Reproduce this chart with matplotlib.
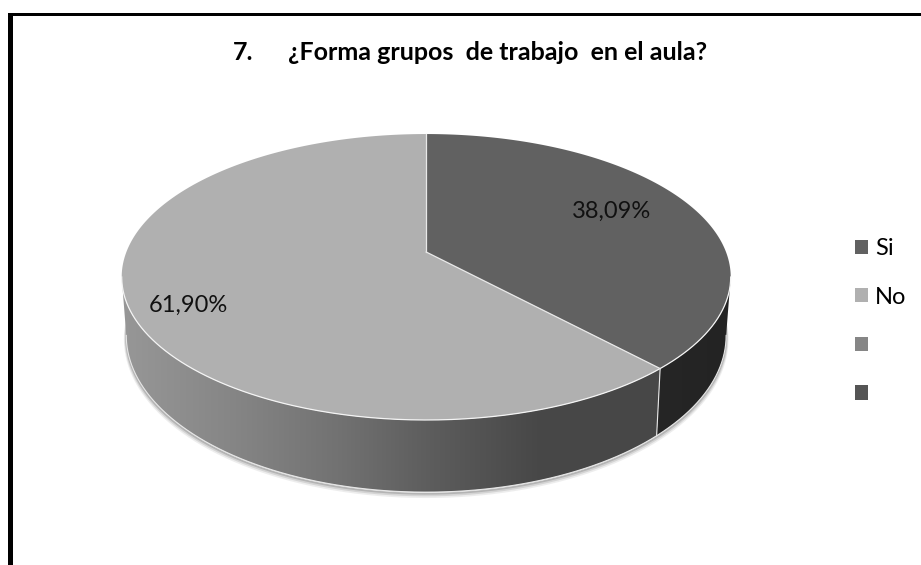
import matplotlib
matplotlib.use("Agg")
import matplotlib.pyplot as plt
import numpy as np
from matplotlib.colors import LinearSegmentedColormap
from matplotlib.patches import Patch, Polygon, Rectangle

plt.rcParams['font.family'] = ['Lato', 'DejaVu Sans']

TITLE_NUMBER = "7."
TITLE = "¿Forma grupos  de trabajo  en el aula?"
categories = ["Si", "No", "", ""]
values = [38.09, 61.90, 0, 0]
colors = ["#616161", "#b0b0b0", "#868686", "#555555"]

# perspective of the pie, everything in image pixels
CX = 426.2
TOP_Y = 252
BOTTOM_Y = 308
RX = 299.8
RY = 138.6
K = 0.175
BOTTOM_XS = 0.985
BOTTOM_YS = 1.096
EDGE = np.degrees(np.arccos(-K))


def project(theta, bottom=False):
    '''Map clockwise angles from the top of the disc to image pixels.'''
    t = np.radians(theta)
    w = 1 + K * np.cos(t)
    x = RX * np.sin(t) / w
    y = -RY * np.cos(t) / w
    if bottom:
        return CX + BOTTOM_XS * x, BOTTOM_Y + BOTTOM_YS * y
    return CX + x, TOP_Y + y


def draw_wall(ax, start, end, stops):
    angles = np.linspace(start, end, 200)
    tx, ty = project(angles)
    bx, by = project(angles, bottom=True)
    pts = np.column_stack([np.r_[tx, bx[::-1]], np.r_[ty, by[::-1]]])
    shape = Polygon(pts, closed=True, facecolor='none', edgecolor='none', zorder=3)
    ax.add_patch(shape)
    cmap = LinearSegmentedColormap.from_list('wall', stops)
    im = ax.imshow(np.linspace(0, 1, 256).reshape(1, -1), cmap=cmap, aspect='auto',
                   extent=(pts[:, 0].min(), pts[:, 0].max(), pts[:, 1].max(), pts[:, 1].min()),
                   zorder=3, interpolation='bilinear')
    im.set_clip_path(shape)


fig = plt.figure(figsize=(9.21, 5.65), dpi=100)
ax = fig.add_axes([0, 0, 1, 1])

fractions = np.array(values) / sum(values)
edges = np.r_[0, np.cumsum(fractions) * 360]

# soft shadow under the pie
shadow_angles = np.linspace(EDGE - 12, 360 - EDGE + 12, 300)
sx, sy = project(shadow_angles, bottom=True)
for off, width, alpha in [(3.5, 3.5, 0.10), (2.5, 2.5, 0.16), (1.5, 1.5, 0.25)]:
    ax.plot(sx, sy + off, color='#555555', lw=width, alpha=alpha, zorder=2)

# side walls
draw_wall(ax, EDGE, edges[1], [(0, '#262626'), (1, '#232323')])
draw_wall(ax, edges[1], 360 - EDGE, [(0, '#979797'), (0.2, '#868686'), (0.4, '#727272'),
                                     (0.58, '#5c5c5c'), (0.78, '#474747'), (1, '#484848')])

wall_angles = np.linspace(EDGE, 360 - EDGE, 300)
bx, by = project(wall_angles, bottom=True)
ax.plot(bx, by, color='#e6e6e6', lw=0.8, zorder=4)

# top face
for start, end, color in zip(edges[:-1], edges[1:], colors):
    if end - start <= 0:
        continue
    angles = np.linspace(start, end, 300)
    x, y = project(angles)
    ax.add_patch(Polygon(np.column_stack([np.r_[CX, x], np.r_[TOP_Y, y]]), closed=True,
                         facecolor=color, edgecolor='none', zorder=5))

# white edges: front rim, slice borders
rx, ry = project(np.linspace(EDGE, 360 - EDGE, 300))
ax.plot(rx, ry, color='#f4f4f4', lw=0.9, zorder=6)
for angle in edges[[0, 1]]:
    ex, ey = project(np.array([angle]))
    ax.plot([CX, ex[0]], [TOP_Y, ey[0]], color='#e8e8e8', lw=0.9, zorder=6)
ex, ey = project(np.array([edges[1]]))
fx, fy = project(np.array([edges[1]]), bottom=True)
ax.plot([ex[0], fx[0]], [ey[0], fy[0]], color='#e8e8e8', lw=0.8, zorder=6)

# percent labels
label_pos = [(612, 211), (188.5, 305)]
for val, pos in zip(values, label_pos):
    ax.text(pos[0], pos[1], f"{val:.2f}%".replace('.', ','), fontsize=17, color='#111111',
            ha='center', va='center', zorder=7)

# title
ax.text(233, 52, TITLE_NUMBER, fontsize=18, fontweight='bold', color='black', ha='left', va='center')
ax.text(288, 52, TITLE, fontsize=18, fontweight='bold', color='black', ha='left', va='center')

# legend
handles = [Patch(facecolor=c, edgecolor='none') for c in colors]
ax.legend(handles, categories, loc='upper left', bbox_to_anchor=(855, 238),
          bbox_transform=ax.transData, frameon=False, fontsize=17, handlelength=0.55,
          handleheight=0.55, handletextpad=0.3, labelspacing=1.17, borderpad=0, borderaxespad=0)

# frame of the page, open at the bottom and on the right
ax.add_patch(Rectangle((8, 13), 913, 3, facecolor='black', edgecolor='none', zorder=8))
ax.add_patch(Rectangle((8, 13), 5, 552, facecolor='black', edgecolor='none', zorder=8))

ax.set_xlim(0, 921)
ax.set_ylim(565, 0)
ax.axis('off')

fig.savefig('out.png', dpi=100)
